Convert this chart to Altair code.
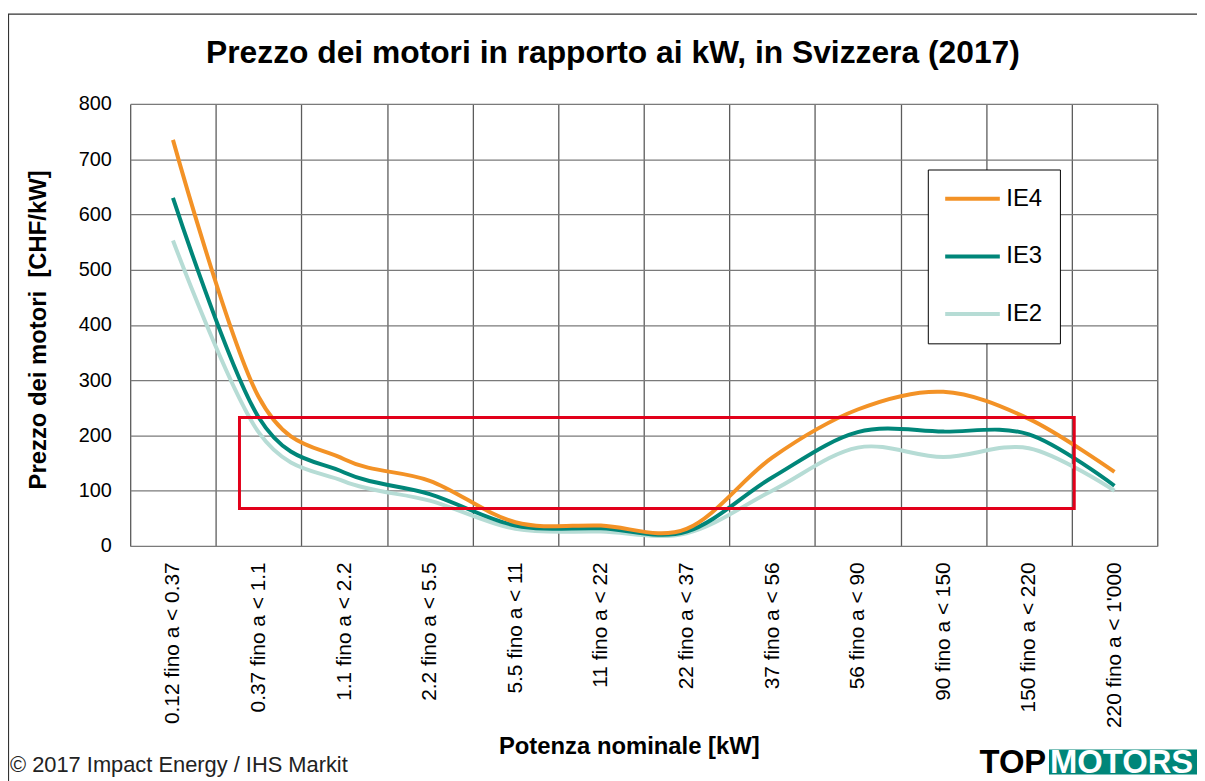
import altair as alt
import pandas as pd

categories = [
    "0.12 fino a < 0.37", "0.37 fino a < 1.1", "1.1 fino a < 2.2",
    "2.2 fino a < 5.5", "5.5 fino a < 11", "11 fino a < 22",
    "22 fino a < 37", "37 fino a < 56", "56 fino a < 90",
    "90 fino a < 150", "150 fino a < 220", "220 fino a < 1'000",
]
ie4 = [735, 270, 157, 118, 43, 37, 31, 160, 247, 279, 230, 134]
ie3 = [630, 233, 133, 94, 37, 32, 26, 124, 206, 207, 202, 109]
ie2 = [553, 206, 117, 82, 31, 26, 23, 100, 178, 161, 177, 100]

series_names = ["IE4", "IE3", "IE2"]
series_colors = ["#F39226", "#008679", "#B6DCD5"]

# highlighted range (band units on x, CHF/kW on y)
box_x = [1.277, 11.03]
box_y = [67.8, 232.4]

FONT = "Liberation Sans"

rows = []
for name, vals in [("IE2", ie2), ("IE3", ie3), ("IE4", ie4)]:
    for c, v in zip(categories, vals):
        rows.append({"Potenza": c, "Prezzo": v, "Serie": name})
df = pd.DataFrame(rows)

box_df = pd.DataFrame({"x0": [box_x[0]], "x1": [box_x[1]], "y0": [box_y[0]], "y1": [box_y[1]]})
one = pd.DataFrame({"k": [0]})

yscale = alt.Scale(domain=[0, 800], nice=False)
yaxis = alt.Axis(
    title="Prezzo dei motori\u00a0 [CHF/kW]", values=list(range(0, 801, 100)),
    ticks=False, domain=False, labelPadding=19, labelFontSize=20,
    labelFont=FONT, labelColor="black", grid=True, gridColor="#7a7a7a", gridWidth=1.3,
    titleFontSize=24, titleFont=FONT, titleFontWeight="bold", titleColor="black",
    titleX=-92, titleY=227, titleBaseline="middle", titleAngle=270,
)

lines = alt.Chart(df).mark_line(interpolate="cardinal", strokeWidth=4).encode(
    x=alt.X(
        "Potenza:N", sort=categories, bandPosition=0.5,
        scale=alt.Scale(type="band", paddingInner=0, paddingOuter=0),
        axis=alt.Axis(
            title="Potenza nominale [kW]", labelAngle=-90, labelPadding=16,
            labelFontSize=21, labelFont=FONT, labelColor="black",
            ticks=False, domain=False, grid=True, tickBand="extent",
            gridColor="#5c5c5c", gridWidth=1.3,
            titleFontSize=24, titleFont=FONT, titleFontWeight="bold", titleColor="black",
            titleX=502, titleY=209, titleBaseline="alphabetic",
        ),
    ),
    y=alt.Y("Prezzo:Q", scale=yscale, axis=yaxis),
    color=alt.Color(
        "Serie:N", scale=alt.Scale(domain=series_names, range=series_colors),
        legend=alt.Legend(
            title=None, orient="none", legendX=803, legendY=66,
            symbolType="M-2.75,0H2.75", symbolSize=400, symbolStrokeWidth=4,
            symbolOffset=15.5, symbolFillColor="transparent",
            labelFontSize=24, labelFont=FONT, labelColor="black", labelOffset=22,
            padding=17.5, rowPadding=34, strokeColor="black", fillColor="white",
        ),
    ),
)

box = alt.Chart(box_df).mark_rect(fillOpacity=0, stroke="#E2001A", strokeWidth=3).encode(
    x=alt.X("x0:Q", scale=alt.Scale(domain=[0, 12], nice=False), axis=None),
    x2="x1:Q",
    y=alt.Y("y0:Q", scale=yscale, axis=yaxis),
    y2="y1:Q",
)

frame = alt.Chart(one).mark_rect(fillOpacity=0, stroke="#333333", strokeWidth=1.2).encode(
    x=alt.value(-122.5), x2=alt.value(1200), y=alt.value(-90.5), y2=alt.value(720)
)

title = alt.Chart(one).mark_text(
    text="Prezzo dei motori in rapporto ai kW, in Svizzera (2017)", font=FONT,
    fontSize=32, fontWeight="bold", align="center", baseline="alphabetic", color="black",
).encode(x=alt.value(486), y=alt.value(-41.5))

footer = alt.Chart(one).mark_text(
    text="\u00a9 2017 Impact Energy / IHS Markit", font=FONT, fontSize=22,
    align="left", baseline="alphabetic", color="#222222",
).encode(x=alt.value(-121), y=alt.value(673))

logo_top = alt.Chart(one).mark_text(
    text="TOP", font=FONT, fontSize=33, fontWeight="bold",
    align="left", baseline="alphabetic", color="black",
).encode(x=alt.value(855), y=alt.value(674))

logo_bg = alt.Chart(one).mark_rect(fill="#008679").encode(
    x=alt.value(925), x2=alt.value(1074), y=alt.value(650), y2=alt.value(675)
)

logo_motors = alt.Chart(one).mark_text(
    text="MOTORS", font=FONT, fontSize=33, fontWeight="bold",
    align="left", baseline="alphabetic", color="white",
).encode(x=alt.value(926), y=alt.value(674))

chart = alt.layer(lines, box, frame, title, footer, logo_top, logo_bg, logo_motors).resolve_scale(
    x="independent"
).properties(
    width=1034, height=445,
    padding={"left": 123, "top": 94, "right": 40, "bottom": 234},
    autosize=alt.AutoSizeParams(type="none"),
).configure_view(
    stroke="#4d4d4d", strokeWidth=1.5
).configure(font=FONT, background="white")

chart.save("out.html", embed_options={"renderer": "svg", "actions": False})
